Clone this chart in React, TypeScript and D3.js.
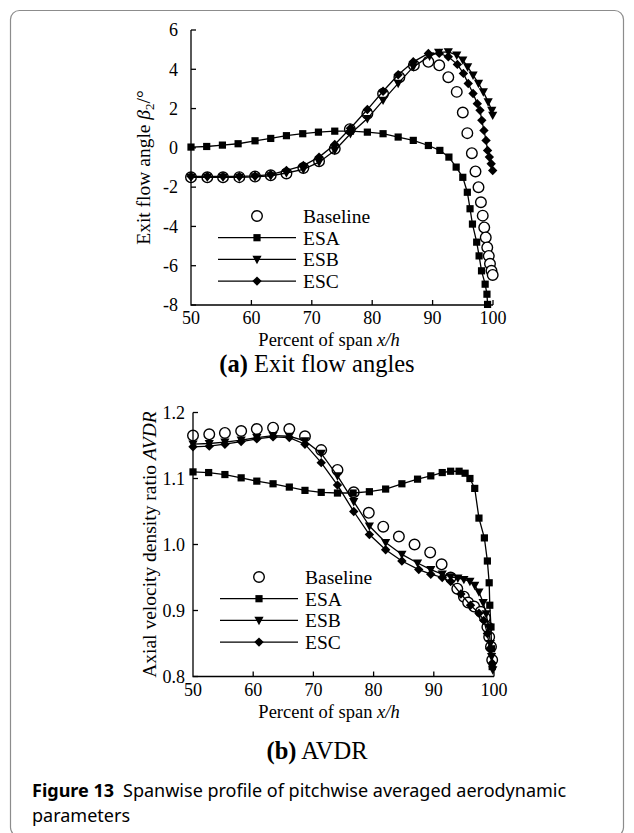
import React from 'react';
import * as d3 from 'd3';

// ---------- tick labels ----------
const xTicks = [50, 60, 70, 80, 90, 100];
const angleTicks = [-8, -6, -4, -2, 0, 2, 4, 6];
const avdrTicks = [0.8, 0.9, 1.0, 1.1, 1.2];
const seriesNames = ['Baseline', 'ESA', 'ESB', 'ESC'];

// ---------- (a) exit flow angle ----------
const angBaseX = [50, 52.7, 55.3, 58, 60.6, 63.2, 65.8, 68.6, 71.2, 73.8, 76.3, 79.2, 81.8, 84.5, 86.9, 89.3, 91.1, 92.6, 94.0, 95.0, 95.75, 96.5, 97.1, 97.6, 98.0, 98.3, 98.55, 98.8, 99.05, 99.3, 99.5, 99.75, 99.95];
const angBaseY = [-1.5, -1.5, -1.5, -1.49, -1.46, -1.4, -1.3, -1.02, -0.68, -0.05, 0.95, 1.74, 2.75, 3.6, 4.2, 4.38, 4.2, 3.6, 2.85, 1.8, 0.75, -0.27, -1.2, -2.0, -2.77, -3.45, -4.05, -4.56, -5.07, -5.5, -5.9, -6.26, -6.47];

const angEsaX = [50, 52.6, 55.2, 57.8, 60.6, 63.2, 65.8, 68.5, 71.1, 73.8, 76.4, 79.2, 81.8, 84.3, 86.8, 89.3, 91.2, 92.7, 93.9, 95.0, 95.75, 96.2, 96.6, 97.3, 97.7, 98.1, 98.7, 99.0, 99.1];
const angEsaY = [0.04, 0.07, 0.14, 0.21, 0.36, 0.48, 0.62, 0.72, 0.8, 0.85, 0.85, 0.8, 0.72, 0.55, 0.38, 0.12, -0.13, -0.47, -0.98, -1.5, -2.26, -3.1, -3.88, -4.8, -5.5, -6.26, -6.94, -7.45, -7.97];

const angEsbX = [50, 52.7, 55.3, 58, 60.6, 63.2, 65.8, 68.6, 71.2, 73.8, 76.4, 79.2, 81.8, 84.3, 86.8, 89.5, 91.0, 92.6, 94.0, 95.0, 95.8, 96.7, 97.6, 98.4, 99.2, 99.8, 99.95];
const angEsbY = [-1.5, -1.5, -1.5, -1.5, -1.48, -1.43, -1.28, -1.1, -0.73, -0.13, 0.72, 1.49, 2.42, 3.28, 4.12, 4.67, 4.86, 4.89, 4.72, 4.47, 4.12, 3.7, 3.28, 2.85, 2.34, 1.91, 1.66];

const angEscX = [50, 52.7, 55.3, 58, 60.6, 63.2, 65.8, 68.6, 71.2, 73.8, 76.4, 79.2, 81.8, 84.3, 86.8, 89.3, 91.1, 92.6, 94.1, 95.1, 95.9, 96.7, 97.4, 97.85, 98.15, 98.5, 98.85, 99.1, 99.4, 99.7, 99.95];
const angEscY = [-1.45, -1.45, -1.45, -1.45, -1.43, -1.36, -1.15, -0.9, -0.47, 0.17, 1.0, 1.95, 2.88, 3.72, 4.38, 4.81, 4.81, 4.64, 4.25, 3.79, 3.28, 2.77, 2.25, 1.91, 1.4, 0.89, 0.38, -0.13, -0.47, -0.81, -1.15];

// ---------- (b) AVDR ----------
const avBaseX = [50, 52.7, 55.3, 58, 60.6, 63.3, 66, 68.6, 71.3, 74, 76.7, 79.2, 81.6, 84.2, 86.8, 89.4, 91.3, 92.8, 93.9, 95.0, 95.7, 96.7, 97.8, 98.5, 98.9, 99.2, 99.5, 99.7];
const avBaseY = [1.165, 1.167, 1.169, 1.172, 1.175, 1.177, 1.175, 1.164, 1.143, 1.113, 1.079, 1.048, 1.027, 1.012, 1.0, 0.988, 0.97, 0.95, 0.933, 0.921, 0.912, 0.906, 0.898, 0.889, 0.875, 0.86, 0.845, 0.825];

const avEsaX = [50, 52.6, 55.3, 58, 60.6, 63.3, 66, 68.6, 71.3, 74, 76.6, 79.3, 82, 84.7, 87.3, 89.5, 91.4, 92.8, 94.2, 95.2, 96.0, 96.8, 97.5, 98.4, 98.9, 99.2, 99.3, 99.5, 99.6, 99.7];
const avEsaY = [1.11, 1.109, 1.106, 1.101, 1.096, 1.092, 1.087, 1.082, 1.079, 1.078, 1.078, 1.08, 1.084, 1.092, 1.099, 1.104, 1.109, 1.111, 1.111, 1.108, 1.1, 1.085, 1.04, 1.01, 0.975, 0.942, 0.908, 0.875, 0.842, 0.815];

const avEsbX = [50, 52.7, 55.3, 58, 60.6, 63.3, 66, 68.6, 71.3, 74, 76.7, 79.3, 82, 84.7, 87.3, 89.5, 91.4, 92.8, 94, 95, 96, 96.8, 97.5, 98.2, 98.7, 99.1, 99.4, 99.6, 99.8];
const avEsbY = [1.152, 1.153, 1.155, 1.158, 1.162, 1.165, 1.164, 1.157, 1.138, 1.104, 1.065, 1.028, 1.003, 0.985, 0.972, 0.962, 0.955, 0.951, 0.949, 0.947, 0.944, 0.938, 0.928, 0.912, 0.895, 0.875, 0.85, 0.83, 0.81];

const avEscX = [50, 52.7, 55.3, 58, 60.6, 63.3, 66, 68.6, 71.3, 74, 76.7, 79.3, 82, 84.7, 87.5, 89.5, 91.4, 92.8, 94.5, 96.1, 97.5, 98.3, 98.9, 99.3, 99.7];
const avEscY = [1.148, 1.149, 1.152, 1.156, 1.16, 1.163, 1.162, 1.152, 1.124, 1.09, 1.05, 1.015, 0.992, 0.975, 0.962, 0.955, 0.95, 0.944, 0.925, 0.908, 0.896, 0.885, 0.865, 0.842, 0.82];

type Pt = [number, number];
const zip = (xs: number[], ys: number[]): Pt[] => xs.map((x, i) => [x, ys[i]]);

const SERIF = '"Liberation Serif", "Times New Roman", serif';
const SANS = '"Noto Sans", "Open Sans", sans-serif';

function Marker({ kind, x, y }: { kind: string; x: number; y: number }) {
  if (kind === 'circle') return <circle cx={x} cy={y} r={5.3} fill="white" stroke="black" strokeWidth={1.4} />;
  if (kind === 'square') return <rect x={x - 3.6} y={y - 3.6} width={7.2} height={7.2} fill="black" />;
  if (kind === 'tri') return <path d={`M${x - 4.6},${y - 3.6}L${x + 4.6},${y - 3.6}L${x},${y + 4.8}Z`} fill="black" />;
  return <path d={`M${x},${y - 4.7}L${x + 4.7},${y}L${x},${y + 4.7}L${x - 4.7},${y}Z`} fill="black" />;
}

const kinds = ['circle', 'square', 'tri', 'diamond'];

function Panel(props: {
  top: number; bottom: number; left: number; right: number;
  yDomain: [number, number]; yTicks: number[]; fmt: (v: number) => string;
  series: Pt[][]; legendY: number; tickLabelX: number;
  yLabel: React.ReactNode; yLabelX: number; titleX: number;
}) {
  const { top, bottom, left, right } = props;
  const x = d3.scaleLinear().domain([50, 100]).range([left, right]);
  const y = d3.scaleLinear().domain(props.yDomain).range([bottom, top]);
  const line = d3.line<Pt>().x(d => x(d[0])).y(d => y(d[1]));
  return (
    <g>
      {props.series.map((s, i) => (
        <g key={i}>
          {i > 0 && <path d={line(s) || ''} fill="none" stroke="black" strokeWidth={1.3} />}
          {s.map((p, j) => <Marker key={j} kind={kinds[i]} x={x(p[0])} y={y(p[1])} />)}
        </g>
      ))}
      <path d={`M${left},${top}V${bottom}H${right}`} fill="none" stroke="black" strokeWidth={1.3} />
      {props.yTicks.map(t => (
        <g key={t}>
          <line x1={left} x2={left + 5} y1={y(t)} y2={y(t)} stroke="black" strokeWidth={1.3} />
          <text x={props.tickLabelX} y={y(t)} dy="0.35em" textAnchor="end" fontFamily={SERIF} fontSize={18}>{props.fmt(t)}</text>
        </g>
      ))}
      {xTicks.map(t => (
        <g key={t}>
          {t > 50 && <line x1={x(t)} x2={x(t)} y1={bottom} y2={bottom - 5} stroke="black" strokeWidth={1.3} />}
          <text x={x(t)} y={bottom + 19} textAnchor="middle" fontFamily={SERIF} fontSize={18}>{t}</text>
        </g>
      ))}
      <text x={props.titleX} y={bottom + 41} textAnchor="middle" fontFamily={SERIF} fontSize={18.5}>
        Percent of span <tspan fontStyle="italic">x/h</tspan>
      </text>
      <text transform={`translate(${props.yLabelX},${(top + bottom) / 2}) rotate(-90)`} textAnchor="middle" fontFamily={SERIF} fontSize={19.5}>
        {props.yLabel}
      </text>
      {seriesNames.map((n, i) => {
        const ly = props.legendY + i * 21.7;
        return (
          <g key={n}>
            {i > 0 && <line x1={left + 27} x2={left + 105} y1={ly} y2={ly} stroke="black" strokeWidth={1.3} />}
            <Marker kind={kinds[i]} x={left + 66} y={ly} />
            <text x={left + 112} y={ly} dy="0.35em" fontFamily={SERIF} fontSize={19.5}>{n}</text>
          </g>
        );
      })}
    </g>
  );
}

export default function App() {
  const angSeries = [zip(angBaseX, angBaseY), zip(angEsaX, angEsaY), zip(angEsbX, angEsbY), zip(angEscX, angEscY)];
  const avSeries = [zip(avBaseX, avBaseY), zip(avEsaX, avEsaY), zip(avEsbX, avEsbY), zip(avEscX, avEscY)];
  return (
    <svg width={634} height={833} style={{ position: 'absolute', left: 0, top: 0, background: 'white' }}>
      <rect x={0} y={0} width={634} height={833} fill="white" />
      <rect x={10.5} y={10.5} width={613} height={826} rx={9} fill="none" stroke="#8c8c8c" strokeWidth={1.2} />
      <Panel top={30} bottom={305} left={191} right={493}
        yDomain={[-8, 6]} yTicks={angleTicks} fmt={v => String(v)}
        series={angSeries} legendY={216} tickLabelX={178}
        yLabel={<>Exit flow angle <tspan fontStyle="italic">β</tspan><tspan fontSize={13} dy={4}>2</tspan><tspan dy={-4}>/°</tspan></>}
        yLabelX={150} titleX={329} />
      <text x={317} y={372} textAnchor="middle" fontFamily={SERIF} fontSize={24.5}>
        <tspan fontWeight="bold">(a)</tspan> Exit flow angles
      </text>
      <Panel top={412.5} bottom={676.5} left={193} right={494}
        yDomain={[0.8, 1.2]} yTicks={avdrTicks} fmt={v => v.toFixed(1)}
        series={avSeries} legendY={577} tickLabelX={185}
        yLabel={<>Axial velocity density ratio <tspan fontStyle="italic">AVDR</tspan></>}
        yLabelX={156} titleX={329} />
      <text x={317} y={759} textAnchor="middle" fontFamily={SERIF} fontSize={24.5}>
        <tspan fontWeight="bold">(b)</tspan> AVDR
      </text>
      <text x={32} y={797} fontFamily={SANS} fontSize={18}>
        <tspan fontWeight="bold">Figure 13</tspan>{'\u2002'}Spanwise profile of pitchwise averaged aerodynamic
      </text>
      <text x={32} y={822} fontFamily={SANS} fontSize={18}>parameters</text>
    </svg>
  );
}
